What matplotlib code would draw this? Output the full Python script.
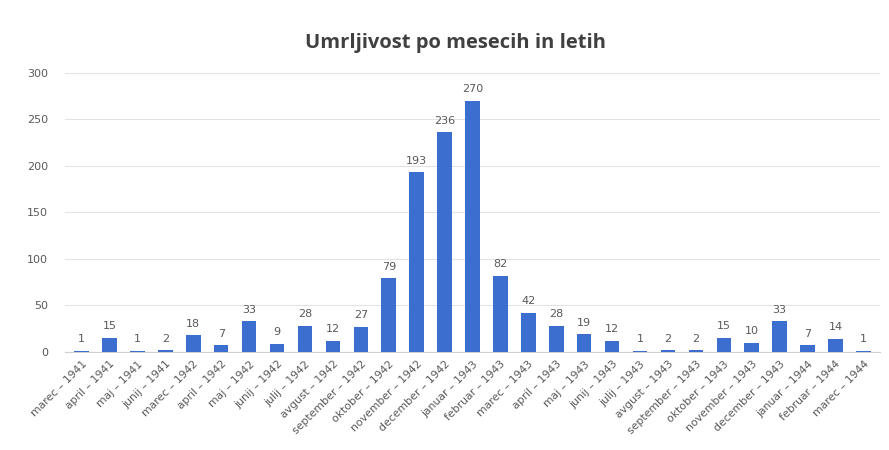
import matplotlib
matplotlib.use('Agg')

import numpy as np
import matplotlib.pyplot as plt

months = ['marec', 'april', 'maj', 'junij',
          'marec', 'april', 'maj', 'junij', 'julij', 'avgust', 'september',
          'oktober', 'november', 'december',
          'januar', 'februar', 'marec', 'april', 'maj', 'junij', 'julij',
          'avgust', 'september', 'oktober', 'november', 'december',
          'januar', 'februar', 'marec']
years = [1941] * 4 + [1942] * 10 + [1943] * 12 + [1944] * 3
deaths = [1, 15, 1, 2, 18, 7, 33, 9, 28, 12, 27, 79, 193, 236,
          270, 82, 42, 28, 19, 12, 1, 2, 2, 15, 10, 33, 7, 14, 1]

labels = ['%s – %d' % (m, y) for m, y in zip(months, years)]

fig = plt.figure(figsize=(8.89, 4.5), dpi=100)
ax = fig.add_axes([0.073, 0.218, 0.917, 0.62])

x = np.arange(len(deaths))
ax.bar(x, deaths, width=0.52, color='#3C6ECF', zorder=3)

for xi, v in zip(x, deaths):
    ax.text(xi, v + 7, str(v), ha='center', va='bottom', fontsize=8, color='#595959')

ax.set_ylim(0, 300)
ax.set_yticks(np.arange(0, 301, 50))
ax.set_xlim(-0.6, len(deaths) - 0.4)
ax.set_xticks(x)
ax.set_xticklabels(labels, rotation=45, ha='right', rotation_mode='anchor', fontsize=7.8, color='#595959')
ax.tick_params(axis='y', labelsize=8, labelcolor='#595959', length=0, pad=12)
ax.tick_params(axis='x', length=0, pad=5)
ax.grid(axis='y', color='#e3e3e3', linewidth=0.8, zorder=0)
for s in ['top', 'right', 'left']:
    ax.spines[s].set_visible(False)
ax.spines['bottom'].set_color('#d0d0d0')

fig.text(0.512, 0.905, 'Umrljivost po mesecih in letih', ha='center', va='center',
         fontsize=14.5, fontweight='bold', color='#404040', family='Open Sans')

fig.savefig('out.png', dpi=100)
